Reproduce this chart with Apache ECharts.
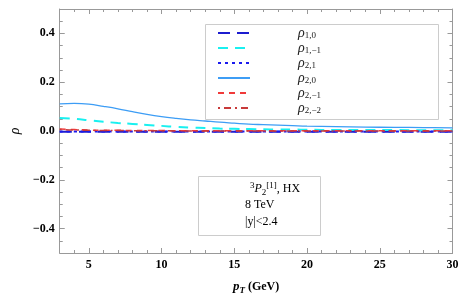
<!DOCTYPE html>
<html><head><meta charset="utf-8">
<script src="https://cdn.jsdelivr.net/npm/echarts@6/dist/echarts.min.js"></script>
<style>html,body{margin:0;padding:0;background:#fff}#c{width:464px;height:300px}</style>
</head><body><div id="c"></div>
<script>
var pT = [3,4,5,6,7,8,9,10,11,12,13,14,15,16,17,18,19,20,22,24,26,28,30];
var rho10  = [-0.003,-0.003,-0.003,-0.003,-0.003,-0.003,-0.003,-0.003,-0.003,-0.003,-0.003,-0.003,-0.003,-0.003,-0.003,-0.003,-0.003,-0.003,-0.003,-0.003,-0.003,-0.003,-0.003];
var rho1m1 = [0.053,0.050,0.044,0.038,0.033,0.029,0.025,0.021,0.017,0.014,0.012,0.010,0.009,0.008,0.007,0.006,0.006,0.005,0.004,0.004,0.004,0.003,0.003];
var rho21  = [-0.002,-0.002,-0.002,-0.002,-0.002,-0.002,-0.002,-0.002,-0.002,-0.002,-0.002,-0.002,-0.002,-0.002,-0.002,-0.002,-0.002,-0.002,-0.002,-0.002,-0.002,-0.002,-0.002];
var rho20  = [0.111,0.113,0.110,0.101,0.091,0.079,0.068,0.059,0.052,0.046,0.041,0.036,0.032,0.028,0.026,0.024,0.022,0.020,0.018,0.016,0.015,0.014,0.013];
var rho2m1 = [0.008,0.006,0.004,0.003,0.003,0.002,0.002,0.002,0.001,0.001,0.001,0.001,0.001,0.001,0.001,0.001,0.001,0.001,0.001,0.001,0.001,0.001,0.001];
var rho2m2 = [0.006,0.004,0.003,0.002,0.002,0.001,0.001,0.001,0.001,0.000,0.000,0.000,0.000,0.000,0.000,0.000,0.000,0.000,0.000,0.000,0.000,0.000,0.000];
var xMajor = [5,10,15,20,25,30];
var yMajor = [-0.4,-0.2,0.0,0.2,0.4];
var legendNames = ['1,0','1,\u22121','2,1','2,0','2,\u22121','2,\u22122'];

function pair(a){ return pT.map(function(x,i){return [x,a[i]];}); }
var AX = '#999';
var serif = 'Liberation Serif, Times New Roman, serif';
function xAx(pos, major, labels){
  var a = {type:'value', position:pos, min:3, max:30,
    axisLine:{show:major, onZero:false, lineStyle:{color:AX,width:1}},
    axisTick:{show:true, inside:true, length:major?5:3, lineStyle:{color:AX,width:1}},
    axisLabel:{show:labels, color:'#000', fontFamily:serif, fontWeight:'bold', fontSize:12, margin:6},
    splitLine:{show:false}};
  if (major) { a.axisTick.customValues = xMajor; a.axisLabel.customValues = xMajor; }
  else { a.interval = 1; a.axisLabel.show = false; }
  return a;
}
function yAx(pos, major, labels){
  var a = {type:'value', position:pos, min:-0.5, max:0.5,
    axisLine:{show:major, onZero:false, lineStyle:{color:AX,width:1}},
    axisTick:{show:true, inside:true, length:major?5:3, lineStyle:{color:AX,width:1}},
    axisLabel:{show:labels, color:'#000', fontFamily:serif, fontWeight:'bold', fontSize:12, margin:5,
      formatter:function(v){var s=Math.abs(v).toFixed(1); return (v< -1e-9?'\u2212':'')+s;}},
    splitLine:{show:false}};
  if (major) { a.axisTick.customValues = yMajor; a.axisLabel.customValues = yMajor; }
  else { a.interval = 0.05; a.axisLabel.show = false; }
  return a;
}
var xAxes = [xAx('bottom',true,true), xAx('bottom',false,false), xAx('top',true,false), xAx('top',false,false)];
xAxes[0].name = '{p|p}{t|T}{g| (GeV)}';
xAxes[0].nameLocation = 'middle';
xAxes[0].nameGap = 26;
xAxes[0].nameTextStyle = {color:'#000', rich:{
  p:{fontFamily:serif, fontStyle:'italic', fontWeight:'bold', fontSize:13, lineHeight:16, verticalAlign:'middle', color:'#000'},
  t:{fontFamily:serif, fontStyle:'italic', fontWeight:'bold', fontSize:9, lineHeight:10, verticalAlign:'bottom', color:'#000'},
  g:{fontFamily:serif, fontWeight:'bold', fontSize:12, lineHeight:16, verticalAlign:'middle', color:'#000'}}};
var yAxes = [yAx('left',true,true), yAx('left',false,false), yAx('right',true,false), yAx('right',false,false)];
yAxes[0].name = '\u03c1';
yAxes[0].nameLocation = 'middle';
yAxes[0].nameRotate = 90;
yAxes[0].nameGap = 36;
yAxes[0].nameTextStyle = {fontFamily:serif, fontStyle:'italic', fontSize:14, color:'#000'};

function ser(name, data, color, type, w){
  return {name:name, type:'line', data:pair(data), xAxisIndex:0, yAxisIndex:0, symbol:'none', smooth:0.4,
    lineStyle:{color:color, type:type, width:w}, itemStyle:{color:color}, silent:true, z:3};
}
var series = [
  ser('r10', rho10, '#1c1ccf', [12,7], 2),
  ser('r1m1', rho1m1, '#19f0f0', [10,7], 2),
  ser('r21', rho21, '#1a1aee', [3,4], 2),
  ser('r20', rho20, '#3d9df5', 'solid', 1.3),
  ser('r2m1', rho2m1, '#f03a3a', [6,5], 1.5),
  ser('r2m2', rho2m2, '#c83a3a', [2,4,7,4], 1.5)
];
var names = ['r10','r1m1','r21','r20','r2m1','r2m2'];
var option = {
  backgroundColor:'#fff',
  animation:false,
  grid:{left:49.5, right:11.5, top:9, bottom:43, containLabel:false},
  xAxis:xAxes, yAxis:yAxes, series:series,
  legend:{data:names, orient:'vertical', left:217, top:26, itemWidth:32, itemHeight:14, itemGap:1, padding:0,
    selectedMode:false, z:20, itemStyle:{opacity:0},
    formatter:function(n){ return '{g| }{r|\u03c1}{s|'+legendNames[names.indexOf(n)]+'}'; },
    textStyle:{rich:{
      g:{width:43},
      r:{fontFamily:serif, fontStyle:'italic', fontSize:14, lineHeight:14, verticalAlign:'middle', color:'#222'},
      s:{fontFamily:serif, fontSize:9, lineHeight:8, verticalAlign:'bottom', color:'#222'}}}},
  graphic:[
    {type:'rect', shape:{x:205.5, y:24.5, width:233, height:95}, style:{fill:'#fff', stroke:'#ccc', lineWidth:1}, z:5},
    {type:'rect', shape:{x:198.5, y:176.5, width:122, height:59}, style:{fill:'#fff', stroke:'#ccc', lineWidth:1}, z:5},
    {type:'text', x:250, y:189, z:6, style:{text:'{a|3}{p|P}{b|2}{a|[1]}{n|, HX}', verticalAlign:'middle', rich:{
      a:{fontFamily:serif, fontSize:9, lineHeight:8, verticalAlign:'top', fill:'#000'},
      p:{fontFamily:serif, fontStyle:'italic', fontSize:12, lineHeight:16, verticalAlign:'middle', fill:'#000'},
      b:{fontFamily:serif, fontSize:9, lineHeight:8, verticalAlign:'bottom', fill:'#000'},
      n:{fontFamily:serif, fontSize:12, lineHeight:16, verticalAlign:'middle', fill:'#000'}}}},
    {type:'text', x:245, y:205, z:6, style:{text:'8 TeV', fontFamily:serif, fontSize:12, verticalAlign:'middle', fill:'#000'}},
    {type:'text', x:245, y:222, z:6, style:{text:'|y|<2.4', fontFamily:serif, fontSize:12, verticalAlign:'middle', fill:'#000'}}
  ]
};
var ch = echarts.init(document.getElementById('c'), null, {renderer:'canvas'});
ch.setOption(option);
</script></body></html>
